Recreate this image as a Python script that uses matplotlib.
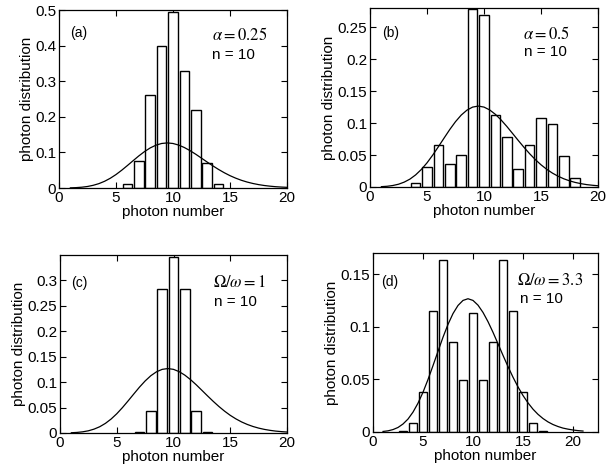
import matplotlib
matplotlib.use("Agg")
import matplotlib.pyplot as plt
from matplotlib.ticker import FormatStrFormatter, FuncFormatter

# ---- data ----
n_a = [6, 7, 8, 9, 10, 11, 12, 13, 14]
p_a = [0.010, 0.075, 0.260, 0.400, 0.495, 0.330, 0.218, 0.070, 0.012]

n_b = [4, 5, 6, 7, 8, 9, 10, 11, 12, 13, 14, 15, 16, 17, 18]
p_b = [0.007, 0.032, 0.065, 0.036, 0.050, 0.278, 0.270, 0.113, 0.078,
       0.028, 0.065, 0.108, 0.099, 0.049, 0.014]

n_c = [7, 8, 9, 10, 11, 12, 13]
p_c = [0.002, 0.043, 0.283, 0.347, 0.283, 0.043, 0.002]

n_d = [3, 4, 5, 6, 7, 8, 9, 10, 11, 12, 13, 14, 15, 16, 17]
p_d = [0.001, 0.009, 0.038, 0.115, 0.164, 0.086, 0.049, 0.113, 0.049,
       0.086, 0.164, 0.115, 0.038, 0.009, 0.001]

# reference (coherent) distribution curve, read at half-unit steps
curve_x = [1.0, 1.5, 2.0, 2.5, 3.0, 3.5, 4.0, 4.5, 5.0, 5.5, 6.0, 6.5, 7.0,
           7.5, 8.0, 8.5, 9.0, 9.5, 10.0, 10.5, 11.0, 11.5, 12.0, 12.5, 13.0,
           13.5, 14.0, 14.5, 15.0, 15.5, 16.0, 16.5, 17.0, 17.5, 18.0, 18.5,
           19.0, 19.5, 20.0, 20.5, 21.0]
curve_y = [0.0005, 0.0011, 0.0023, 0.0043, 0.0076, 0.0123, 0.0189, 0.0274,
           0.0378, 0.0499, 0.0631, 0.0767, 0.0901, 0.1023, 0.1126, 0.1203,
           0.1251, 0.1267, 0.1251, 0.1206, 0.1137, 0.1049, 0.0948, 0.0839,
           0.0729, 0.0622, 0.0521, 0.0429, 0.0347, 0.0277, 0.0217, 0.0168,
           0.0128, 0.0096, 0.0071, 0.0052, 0.0037, 0.0027, 0.0019, 0.0013,
           0.0009]

panels = [
    dict(n=n_a, p=p_a, xlim=(0, 20), ylim=(0, 0.5), yt=[0, 0.1, 0.2, 0.3, 0.4, 0.5],
         xt=[0, 5, 10, 15, 20], tag="(a)", par=r"$\alpha = 0.25$", cend=20,
         rect=[0.0962, 0.6025, 0.372, 0.3763], tpos=(0.05, 0.87), ppos=(0.67, 0.865), npos=(0.67, 0.75)),
    dict(n=n_b, p=p_b, xlim=(0, 20), ylim=(0, 0.28), yt=[0, 0.05, 0.1, 0.15, 0.2, 0.25],
         xt=[0, 5, 10, 15, 20], tag="(b)", par=r"$\alpha = 0.5$", cend=20,
         rect=[0.6036, 0.6047, 0.372, 0.378], tpos=(0.053, 0.86), ppos=(0.67, 0.86), npos=(0.675, 0.755)),
    dict(n=n_c, p=p_c, xlim=(0, 20), ylim=(0, 0.35), yt=[0, 0.05, 0.1, 0.15, 0.2, 0.25, 0.3],
         xt=[0, 5, 10, 15, 20], tag="(c)", par=r"$\Omega/\omega = 1$", cend=20,
         rect=[0.0979, 0.0846, 0.3703, 0.3763], tpos=(0.05, 0.84), ppos=(0.675, 0.85), npos=(0.68, 0.735)),
    dict(n=n_d, p=p_d, xlim=(0, 22.5), ylim=(0, 0.17), yt=[0, 0.05, 0.1, 0.15],
         xt=[0, 5, 10, 15, 20], tag="(d)", par=r"$\Omega/\omega = 3.3$", cend=21,
         rect=[0.6085, 0.0867, 0.367, 0.378], tpos=(0.035, 0.84), ppos=(0.64, 0.85), npos=(0.655, 0.745)),
]

plt.rcParams['font.family'] = ['Liberation Sans', 'DejaVu Sans']
plt.rcParams['mathtext.fontset'] = 'stix'

fig = plt.figure(figsize=(6.13, 4.73), dpi=100)
fmt = FuncFormatter(lambda v, pos: ("%g" % v))

for P in panels:
    ax = fig.add_axes(P["rect"])
    ax.bar(P["n"], P["p"], width=0.85, facecolor="white", edgecolor="black", linewidth=1.0, zorder=2)
    cx = [x for x in curve_x if x <= P["cend"]]
    cy = curve_y[:len(cx)]
    ax.plot(cx, cy, color="black", linewidth=0.9, zorder=3)
    ax.set_xlim(*P["xlim"])
    ax.set_ylim(*P["ylim"])
    ax.set_xticks(P["xt"])
    ax.set_yticks(P["yt"])
    ax.yaxis.set_major_formatter(fmt)
    ax.xaxis.set_major_formatter(fmt)
    ax.tick_params(direction="in", top=True, right=True, length=4, width=0.8,
                   labelsize=11, pad=2)
    for s in ax.spines.values():
        s.set_linewidth(0.9)
    ax.set_xlabel("photon number", fontsize=11, labelpad=0)
    ax.set_ylabel("photon distribution", fontsize=11, labelpad=1)
    ax.text(*P["tpos"], P["tag"], transform=ax.transAxes, fontsize=10, va="center", ha="left")
    ax.text(*P["ppos"], P["par"], transform=ax.transAxes, fontsize=12, va="center", ha="left")
    ax.text(*P["npos"], "n = 10", transform=ax.transAxes, fontsize=11, va="center", ha="left")

fig.savefig("out.png", dpi=100)
